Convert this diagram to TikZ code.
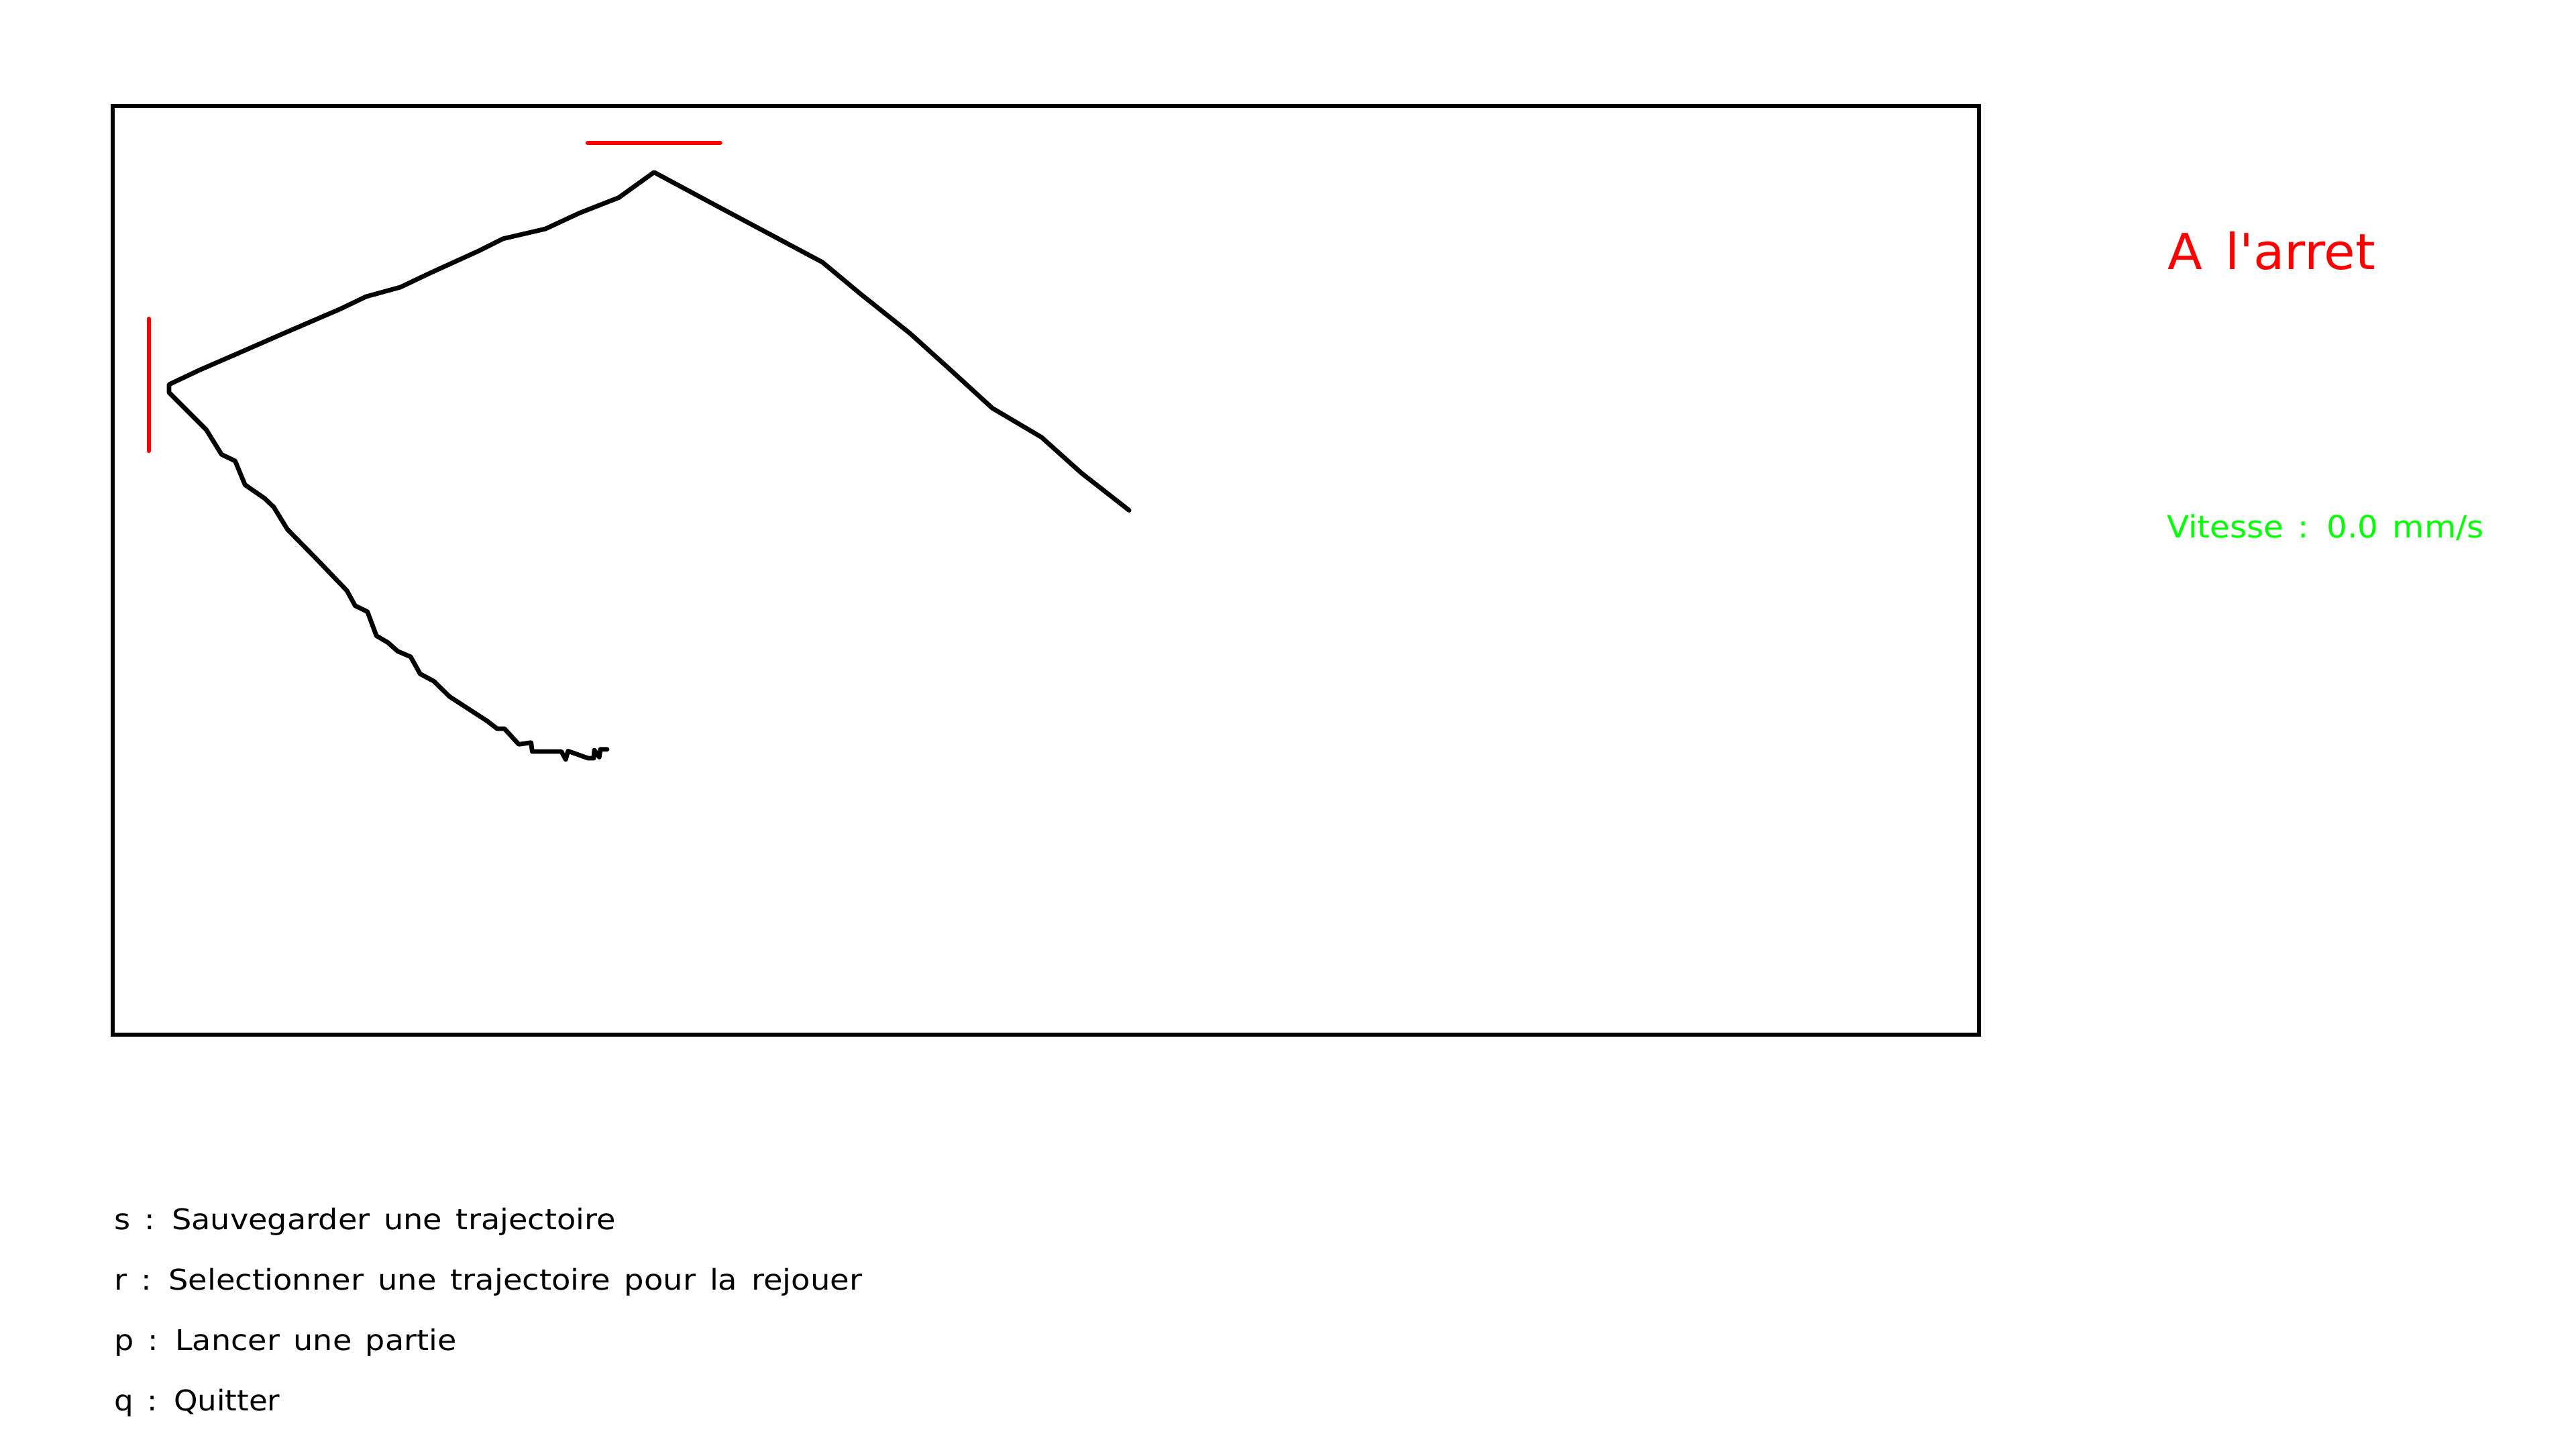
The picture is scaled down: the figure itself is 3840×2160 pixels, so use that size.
\documentclass[tikz,border=0pt]{standalone}
\usepackage{fontspec}
\usepackage{graphicx}
\newfontfamily\hfont{DejaVu Sans}[WordSpace=1.4]
\newcommand{\hwidth}[2]{\resizebox{#1}{\height}{#2}}
\definecolor{cvred}{RGB}{255,0,0}
\definecolor{cvgreen}{RGB}{0,255,0}
\begin{document}
\begin{tikzpicture}[x=0.01cm,y=-0.01cm,
  traj/.style={line width=0.068cm, line join=round, line cap=round, black},
  wall/.style={line width=0.065cm, line cap=round, cvred},
  boxframe/.style={line width=0.068cm, black},
  lbl/.style={inner sep=0pt, anchor=base west},
  menu/.style={lbl, text=black, font=\hfont\fontsize{12.1}{14}\selectfont}]
\useasboundingbox (0,0) rectangle (3840,2160);
\fill[white] (0,0) rectangle (3840,2160);

% playing field
\draw[boxframe] (168,158) rectangle (2950,1542);

% walls
\draw[wall] (876,213) -- (1073.5,213);
\draw[wall] (222,475) -- (222,672);

% trajectory
\draw[traj] (905,1116.7) -- (895,1116.7) -- (893.3,1128.3) -- (886,1118) -- (885,1130)
  -- (876.7,1130) -- (846.7,1119.3) -- (843.3,1131.7) -- (836.7,1120) -- (793.3,1120)
  -- (791.7,1106.7) -- (773.3,1109.3) -- (752,1086) -- (741,1086) -- (726.3,1074.6)
  -- (670.2,1038.2) -- (646.7,1015.2) -- (626.3,1004.3) -- (612.1,978.8) -- (592.7,970.5)
  -- (578.4,957.7) -- (561.1,947.5) -- (547.8,911.7) -- (529.4,902.7) -- (517.2,880.4)
  -- (471.3,832.5) -- (428.5,789) -- (408.1,755.8) -- (394.8,743) -- (365.2,722.5)
  -- (350.5,687) -- (330.3,677.3) -- (307.5,640.5) -- (252,585) -- (252,573)
  -- (297.9,551.3) -- (364.2,522.5) -- (425.4,495.7) -- (507,460.6) -- (545.8,442)
  -- (596.8,428) -- (642.7,406.2) -- (714.1,373.7) -- (749.8,355.8) -- (813,341.1)
  -- (864,317.4) -- (922.4,294.5) -- (975,256.7)
  -- (1068,306.6) -- (1226.1,390.9) -- (1282.2,437.6) -- (1356.7,497) -- (1414.8,549.4)
  -- (1479.1,608.2) -- (1552.5,651.6) -- (1611.7,704.7) -- (1683.1,760.5);

% status texts
\node[lbl, text=cvred, font=\hfont\fontsize{21}{25}\selectfont] (etat) at (3231,401)
  {\hwidth{3.09cm}{A l'arret}};
\node[lbl, text=cvgreen, font=\hfont\fontsize{13}{16}\selectfont] (vitesse) at (3229.5,801.7)
  {\hwidth{4.72cm}{Vitesse : 0.0 mm/s}};

% menu
\node[menu] (m1) at (169.7,1832) {\hwidth{7.47cm}{s : Sauvegarder une trajectoire}};
\node[menu] (m2) at (169.7,1922) {\hwidth{11.14cm}{r : Selectionner une trajectoire pour la rejouer}};
\node[menu] (m3) at (169.7,2012) {\hwidth{5.10cm}{p : Lancer une partie}};
\node[menu] (m4) at (169.7,2102) {\hwidth{2.47cm}{q : Quitter}};
\end{tikzpicture}
\end{document}
